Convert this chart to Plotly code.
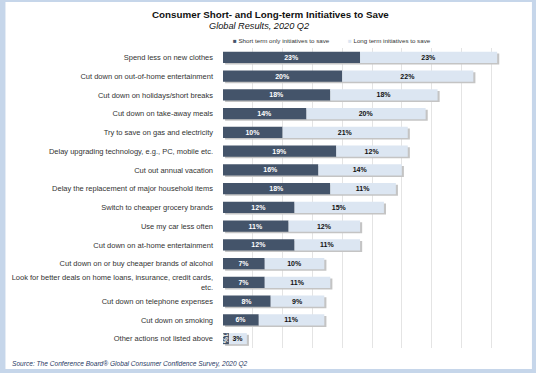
import plotly.graph_objects as go

categories = [
    "Spend less on new clothes",
    "Cut down on out-of-home entertainment",
    "Cut down on holidays/short breaks",
    "Cut down on take-away meals",
    "Try to save on gas and electricity",
    "Delay upgrading technology, e.g., PC, mobile etc.",
    "Cut out annual vacation",
    "Delay the replacement of major household items",
    "Switch to cheaper grocery brands",
    "Use my car less often",
    "Cut down on at-home entertainment",
    "Cut down on or buy cheaper brands of alcohol",
    "Look for better deals on home loans, insurance, credit cards,<br>etc.",
    "Cut down on telephone expenses",
    "Cut down on smoking",
    "Other actions not listed above",
]
short_term = [23, 20, 18, 14, 10, 19, 16, 18, 12, 11, 12, 7, 7, 8, 6, 1]
long_term = [23, 22, 18, 20, 21, 12, 14, 11, 15, 12, 11, 10, 11, 9, 11, 3]

title_text = "Consumer Short- and Long-term Initiatives to Save"
subtitle_text = "Global Results, 2020 Q2"
series_names = ["Short term only initiatives to save", "Long term initiatives to save"]
source_text = "Source: The Conference Board® Global Consumer Confidence Survey, 2020 Q2"

DARK = "#44546a"
LIGHT = "#dce6f2"
W, H = 536, 373
L, R, T, B = 221, 15, 48, 25
pw, ph = W - L - R, H - T - B
BAR_W = 0.59

def px(x):
    return (x - L) / pw

def py(y):
    return 1 - (y - T) / ph

totals = [s + l for s, l in zip(short_term, long_term)]

fig = go.Figure()
# soft drop shadow behind each full bar
fig.add_trace(go.Bar(
    y=categories, x=totals, base=0.35, orientation="h", width=BAR_W,
    offset=-BAR_W / 2 + 0.09, marker=dict(color="#c4c4c4", line=dict(width=0)),
    hoverinfo="skip", showlegend=False,
))
fig.add_trace(go.Bar(
    y=categories, x=short_term, orientation="h", name=series_names[0], width=BAR_W,
    marker=dict(color=DARK, line=dict(width=0)),
    text=[f"<b>{v}%</b>" for v in short_term], textposition="inside",
    insidetextanchor="middle", textfont=dict(color="white", size=7, family="Liberation Sans"),
))
fig.add_trace(go.Bar(
    y=categories, x=long_term, base=short_term, orientation="h", name=series_names[1], width=BAR_W,
    marker=dict(color=LIGHT, line=dict(width=0)),
    text=[f"<b>{v}%</b>" for v in long_term], textposition="inside",
    insidetextanchor="middle", textfont=dict(color="#111111", size=7, family="Liberation Sans"),
))

fig.update_layout(
    barmode="overlay", width=W, height=H,
    margin=dict(l=L, r=R, t=T, b=B),
    paper_bgcolor="#c6d6ea", plot_bgcolor="rgba(0,0,0,0)",
    showlegend=False,
    uniformtext=dict(minsize=7, mode="show"),
    font=dict(family="Liberation Sans, Arial", color="#404040"),
    xaxis=dict(range=[0, 50], dtick=5, showgrid=True, gridcolor="#e4e4e4", gridwidth=1.2,
               showticklabels=False, zeroline=False, showline=False, fixedrange=True),
    yaxis=dict(autorange="reversed", showgrid=False, ticks="", ticklabelstandoff=9,
               tickfont=dict(size=7.5, color="#333333"), fixedrange=True),
    shapes=[
        dict(type="rect", xref="paper", yref="paper", layer="below",
             x0=px(2), x1=px(532), y0=py(2), y1=py(369),
             fillcolor="white", line=dict(width=0)),
    ],
    annotations=[
        dict(text=f"<b>{title_text}</b>", xref="paper", yref="paper", x=px(269), y=py(14),
             xanchor="center", yanchor="middle", showarrow=False,
             font=dict(size=9.8, color="#111111", family="Liberation Sans Narrow, Arial Narrow, Liberation Sans")),
        dict(text=f"<i>{subtitle_text}</i>", xref="paper", yref="paper", x=px(257), y=py(26),
             xanchor="center", yanchor="middle", showarrow=False,
             font=dict(size=9.2, color="#111111", family="Liberation Sans Narrow, Arial Narrow, Liberation Sans")),
        dict(text=f"<span style='color:{DARK}'>■</span> {series_names[0]}", xref="paper", yref="paper",
             x=px(229), y=py(40), xanchor="left", yanchor="middle", showarrow=False,
             font=dict(size=6.2, color="#333333")),
        dict(text=f"<span style='color:{LIGHT}'>■</span> {series_names[1]}", xref="paper", yref="paper",
             x=px(345), y=py(40), xanchor="left", yanchor="middle", showarrow=False,
             font=dict(size=6.2, color="#333333")),
        dict(text=f"<i>{source_text}</i>", xref="paper", yref="paper", x=px(7), y=py(364),
             xanchor="left", yanchor="middle", showarrow=False,
             font=dict(size=6.6, color="#1f3864")),
    ],
)

fig.write_html("out.html", config={"displayModeBar": False},
               post_script="document.body.style.margin='0px';")
